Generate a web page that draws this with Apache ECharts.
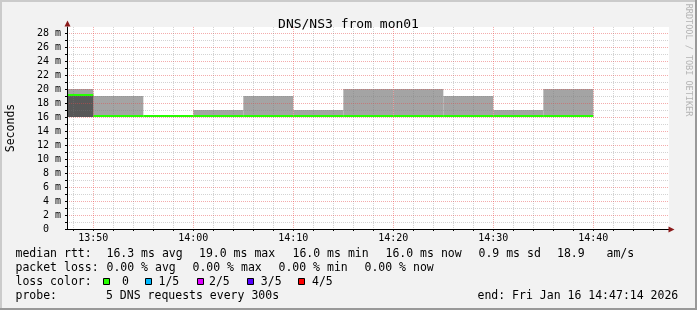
<!DOCTYPE html>
<html><head><meta charset="utf-8">
<script src="https://cdn.jsdelivr.net/npm/echarts@6/dist/echarts.min.js"></script>
<style>html,body{margin:0;padding:0;background:#f2f2f2}#c{width:697px;height:310px}</style>
</head><body><div id="c"></div>
<script>
// ---- data ----
const stepSeconds = 300;
const intervalEnds = ['13:50','13:55','14:00','14:05','14:10','14:15','14:20','14:25','14:30','14:35','14:40'];
const pingFastest = [16,16,16,16,16,16,16,16,16,16,16];
const pingSecond  = [16,16,16,16,16,16,16,16,16,16,16];
const pingMedian  = [19,16,16,16,16,16,16,16,16,16,16];
const pingFourth  = [19,16,16,16,16,16,16,16,16,16,16];
const pingSlowest = [20,19,16,17,19,17,20,20,19,17,20];
const xTickLabels = ['13:50','14:00','14:10','14:20','14:30','14:40'];
const yTickLabels = [0,2,4,6,8,10,12,14,16,18,20,22,24,26,28];
const lossLabels = ['0','1/5','2/5','3/5','4/5'];
const lossColors = ['#26ff00','#00b8ff','#dd00ff','#5500ff','#ff0000'];
const viewStart = '13:47:22';
const viewEnd = '14:47:34';
const yMax = 28.857;

// ---- helpers ----
function toSec(s){ const p = s.split(':').map(Number); return p[0]*3600 + p[1]*60 + (p[2]||0); }
function fmtHM(v){ const h = Math.floor(v/3600), m = Math.round((v%3600)/60); return (h<10?'0':'')+h+':'+(m<10?'0':'')+m; }
const xMin = toSec(viewStart), xMax = toSec(viewEnd);
const xMinorTicks = []; for (let t = Math.ceil(xMin/120)*120; t <= xMax; t += 120) xMinorTicks.push(t);
const yMinorTicks = []; for (let v = 0; v <= Math.floor(yMax); v++) yMinorTicks.push(v);
const MAJ = 'rgba(230,70,70,0.45)', MIN = 'rgba(120,120,120,0.33)';
const xLineColors = xMinorTicks.map(t => t % 600 === 0 ? MAJ : MIN);
const yLineColors = yMinorTicks.map(v => v % 2 === 0 ? MAJ : MIN);

const band = (lo, hi) => intervalEnds.map((e,i) => [toSec(e)-stepSeconds, toSec(e), lo[i], hi[i]]);
function rectItem(params, api, color, isLine){
  const s = api.value(0), e = api.value(1);
  let r;
  if (isLine) {
    const a = api.coord([s, api.value(2)]), b = api.coord([e, api.value(2)]);
    r = {x:a[0], y:a[1]-2, width:b[0]-a[0], height:2};
  } else {
    const a = api.coord([s, api.value(3)]), b = api.coord([e, api.value(2)]);
    if (b[1]-a[1] <= 0) return null;
    r = {x:a[0], y:a[1], width:b[0]-a[0], height:b[1]-a[1]};
  }
  const cs = params.coordSys;
  const shape = echarts.graphic.clipRectByRect(r, {x:cs.x, y:cs.y, width:cs.width, height:cs.height});
  return shape ? {type:'rect', shape, style:{fill:color}} : null;
}

const FONT = '"DejaVu Sans Mono", monospace';
const chart = echarts.init(document.getElementById('c'), null, {renderer:'canvas'});

const G = {left:67, top:27, right:28, bottom:81};
const legendLines = [
  [['median rtt:',15.5],['16.3 ms avg',106.5],['19.0 ms max',199],['16.0 ms min',292.5],['16.0 ms now',385.5],['0.9 ms sd',478.5],['18.9',557],['am/s',606.5]],
  [['packet loss:',15.5],['0.00 % avg',106.5],['0.00 % max',192.5],['0.00 % min',278.5],['0.00 % now',364.5]],
  [['loss color:',15.5]],
  [['probe:',15.5],['5 DNS requests every 300s',106],['end: Fri Jan 16 14:47:14 2026',477.5]]
];
const lineY = [254.5, 268.5, 282.5, 296.5];
const boxX = [103, 145, 197, 247, 298];
const lossTextX = [122, 158.5, 209, 260.8, 312];

const graphics = [
  {type:'rect', shape:{x:0,y:0,width:697,height:2}, style:{fill:'#cbcbcb'}, z:-1},
  {type:'rect', shape:{x:0,y:0,width:2,height:310}, style:{fill:'#cbcbcb'}, z:-1},
  {type:'rect', shape:{x:0,y:308,width:697,height:2}, style:{fill:'#999999'}, z:-1},
  {type:'rect', shape:{x:695,y:0,width:2,height:310}, style:{fill:'#999999'}, z:-1},
  {type:'polygon', shape:{points:[[64.5,26.5],[70.5,26.5],[67.5,20.5]]}, style:{fill:'#8b1a1a'}, z:20},
  {type:'polygon', shape:{points:[[668.5,226.5],[668.5,232.5],[674.5,229.5]]}, style:{fill:'#8b1a1a'}, z:20},
  {type:'text', x:688, y:60, rotation:-Math.PI/2, style:{text:'RRDTOOL / TOBI OETIKER', font:'8.5px '+FONT, fill:'#b4b4b4', align:'center', verticalAlign:'middle'}}
];
legendLines.forEach((segs, li) => segs.forEach(([t,x]) => graphics.push({type:'text', x, y:lineY[li], style:{text:t, font:'11.5px '+FONT, fill:'#000', align:'left', verticalAlign:'middle'}})));
lossLabels.forEach((lab, i) => {
  graphics.push({type:'rect', shape:{x:boxX[i]+0.5, y:278.5, width:6, height:6}, style:{fill:lossColors[i], stroke:'#000', lineWidth:1}});
  graphics.push({type:'text', x:lossTextX[i], y:lineY[2], style:{text:lab, font:'11.5px '+FONT, fill:'#000', align:'left', verticalAlign:'middle'}});
});

chart.setOption({
  animation:false,
  backgroundColor:'#f2f2f2',
  title:{text:'DNS/NS3 from mon01', left:'center', top:13, textStyle:{fontFamily:FONT, fontSize:13, fontWeight:'normal', color:'#000'}},
  grid:Object.assign({show:true, backgroundColor:'#ffffff', borderWidth:0, outerBoundsMode:'none'}, G),
  xAxis:{
    type:'value', min:xMin, max:xMax, z:5,
    axisLine:{show:true, lineStyle:{color:'#000', width:1}},
    axisTick:{show:true, length:2, customValues:xMinorTicks, lineStyle:{color:'#000'}},
    axisLabel:{customValues:xTickLabels.map(toSec), formatter:fmtHM, fontFamily:FONT, fontSize:10, color:'#000', margin:4},
    splitLine:{show:true, lineStyle:{color:xLineColors, type:[1,1], width:1}}
  },
  yAxis:{
    type:'value', min:0, max:yMax, z:5,
    name:'Seconds', nameLocation:'middle', nameRotate:90, nameGap:50,
    nameTextStyle:{fontFamily:FONT, fontSize:11.5, color:'#000'},
    axisLine:{show:true, lineStyle:{color:'#000', width:1}},
    axisTick:{show:true, length:2, customValues:yMinorTicks, lineStyle:{color:'#000'}},
    axisLabel:{customValues:yTickLabels, formatter:v => v === 0 ? '0  ' : v + ' m', fontFamily:FONT, fontSize:10, color:'#000', margin:6},
    splitLine:{show:true, lineStyle:{color:yLineColors, type:[1,1], width:1}}
  },
  series:[
    {type:'custom', name:'smoke outer', clip:true, encode:{x:[0,1], y:[2,3]}, data:band(pingFastest, pingSlowest), renderItem:(p,a)=>rectItem(p,a,'#a4a4a4',false)},
    {type:'custom', name:'smoke inner', clip:true, encode:{x:[0,1], y:[2,3]}, data:band(pingSecond, pingFourth), renderItem:(p,a)=>rectItem(p,a,'#585858',false)},
    {type:'custom', name:'median rtt', clip:true, encode:{x:[0,1], y:2}, data:intervalEnds.map((e,i)=>[toSec(e)-stepSeconds, toSec(e), pingMedian[i]]), renderItem:(p,a)=>rectItem(p,a,lossColors[0],true)}
  ],
  graphic:graphics
});
</script></body></html>
